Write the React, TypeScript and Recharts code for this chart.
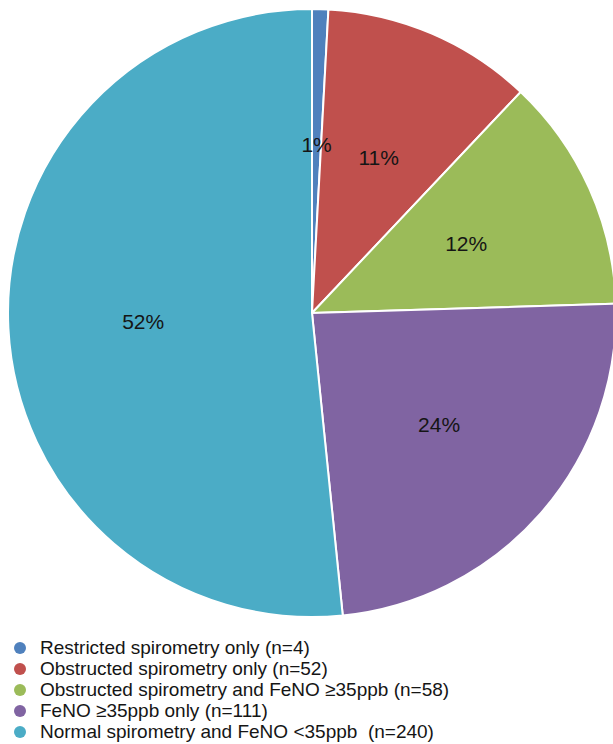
import { PieChart, Pie, Cell } from 'recharts';

const categories = [
  'Restricted spirometry only (n=4)',
  'Obstructed spirometry only (n=52)',
  'Obstructed spirometry and FeNO ≥35ppb (n=58)',
  'FeNO ≥35ppb only (n=111)',
  'Normal spirometry and FeNO <35ppb  (n=240)',
];
const counts = [4, 52, 58, 111, 240];
const colors = ['#4f81bd', '#c0504d', '#9bbb59', '#8064a2', '#4bacc6'];

const data = categories.map((name, i) => ({ name, value: counts[i] }));

const RADIAN = Math.PI / 180;
const FONT = '"Liberation Sans", Arial, sans-serif';

const renderLabel = ({ cx, cy, midAngle, percent }: any) => {
  const r = 169;
  const x = cx + r * Math.cos(-midAngle * RADIAN);
  const y = cy + r * Math.sin(-midAngle * RADIAN);
  return (
    <text
      x={x}
      y={y}
      fill="#151515"
      fontSize={21}
      fontFamily={FONT}
      textAnchor="middle"
      dominantBaseline="central"
    >
      {`${Math.round(percent * 100)}%`}
    </text>
  );
};

export default function App() {
  return (
    <div style={{ position: 'absolute', left: 0, top: 0, width: 613, height: 744, background: '#fff', overflow: 'hidden' }}>
      <PieChart width={613} height={630} margin={{ top: 0, right: 0, bottom: 0, left: 0 }}>
        <Pie
          data={data}
          dataKey="value"
          nameKey="name"
          cx={312}
          cy={313}
          outerRadius={304}
          startAngle={90}
          endAngle={-270}
          stroke="#ffffff"
          strokeWidth={2}
          label={renderLabel}
          labelLine={false}
          isAnimationActive={false}
        >
          {data.map((d, i) => (
            <Cell key={d.name} fill={colors[i]} />
          ))}
        </Pie>
      </PieChart>
      <div style={{ position: 'absolute', left: 0, top: 637, fontFamily: FONT, fontSize: 19, color: '#151515' }}>
        {categories.map((name, i) => (
          <div key={name} style={{ display: 'flex', alignItems: 'center', height: 21, whiteSpace: 'pre' }}>
            <span
              style={{
                display: 'inline-block',
                width: 12,
                height: 12,
                borderRadius: 6,
                background: colors[i],
                marginLeft: 14,
                marginRight: 14,
              }}
            />
            {name}
          </div>
        ))}
      </div>
    </div>
  );
}
